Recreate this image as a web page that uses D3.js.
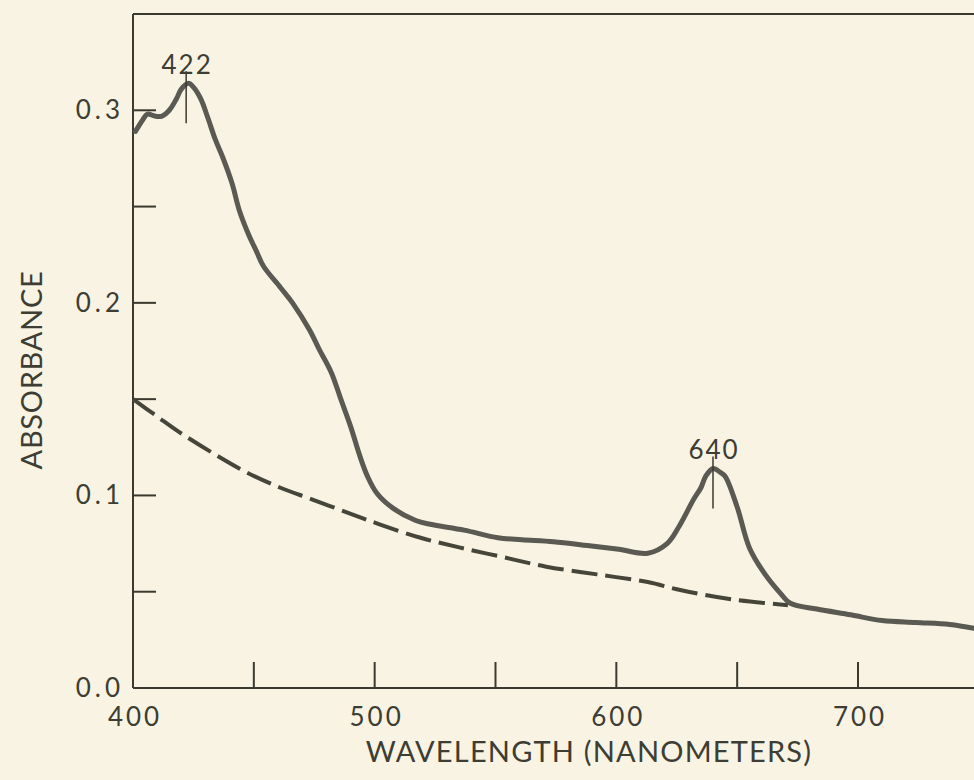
<!DOCTYPE html>
<html lang="en">

<head>
    <meta charset="UTF-8">
    <title>Absorbance spectrum</title>
    <script src="https://cdn.jsdelivr.net/npm/d3@7/dist/d3.min.js"></script>
    <style>
        html, body { margin: 0; padding: 0; background: #f8f3e2; }
        svg { display: block; }
        text { font-family: Lato, "Open Sans", sans-serif; fill: #3d3d33; }
    </style>
</head>

<body>
    <svg width="974" height="780" id="spectrum-svg"></svg>

    <script type="text/javascript">
        // solid curve: wavelength (nm) / absorbance
        var solidWavelength = [401, 404, 406, 409, 412, 415, 418, 420, 423, 425, 428, 431, 434, 437, 441, 444, 448, 451, 454,
            461, 466, 473, 477, 482, 486, 490, 494, 497, 501, 508, 517, 523, 537, 551, 561, 574, 588, 601, 613,
            621, 626, 632, 635, 637, 640, 643, 645, 650, 655, 661, 668, 672, 683, 697, 710, 724, 738, 748];
        var solidAbsorbance = [0.289, 0.295, 0.298, 0.297, 0.297, 0.300, 0.306, 0.311, 0.314, 0.312, 0.306, 0.296, 0.285, 0.276, 0.262, 0.248, 0.235, 0.227, 0.219,
            0.208, 0.200, 0.186, 0.176, 0.164, 0.150, 0.136, 0.120, 0.110, 0.101, 0.093, 0.087, 0.085, 0.082, 0.078, 0.077, 0.076, 0.074, 0.072, 0.070,
            0.075, 0.084, 0.098, 0.104, 0.110, 0.114, 0.112, 0.110, 0.094, 0.073, 0.060, 0.049, 0.044, 0.041, 0.038, 0.035, 0.034, 0.033, 0.031];

        // dashed curve
        var dashWavelength = [400, 410, 419, 433, 447, 461, 474, 489, 502, 519, 535, 553, 571, 592, 613, 626, 648, 671];
        var dashAbsorbance = [0.150, 0.141, 0.133, 0.122, 0.112, 0.104, 0.098, 0.091, 0.085, 0.078, 0.073, 0.068, 0.063, 0.059, 0.055, 0.051, 0.046, 0.043];

        // peak annotations
        var peakWavelength = [422, 640];
        var peakAbsorbance = [0.314, 0.114];

        // ticks
        var xTicks = [450, 500, 550, 600, 650, 700];
        var xTickLabels = [400, 500, 600, 700];
        var yTicks = [0.05, 0.1, 0.15, 0.2, 0.25, 0.3];
        var yTickLabels = [0.0, 0.1, 0.2, 0.3];

        var svg = d3.select("#spectrum-svg");
        var ink = "#3a3a30";

        var x = d3.scaleLinear().domain([400, 748]).range([133, 974]);
        var y = d3.scaleLinear().domain([0, 0.35]).range([688, 14]);

        //frame: left, top, bottom
        var frame = svg.append("g")
            .attr("stroke", ink)
            .attr("stroke-width", 2)
            .attr("fill", "none");
        frame.append("line").attr("x1", x(400)).attr("x2", x(400)).attr("y1", y(0.35)).attr("y2", y(0));
        frame.append("line").attr("x1", x(400)).attr("x2", x(748)).attr("y1", y(0.35)).attr("y2", y(0.35));
        frame.append("line").attr("x1", x(400)).attr("x2", x(748)).attr("y1", y(0)).attr("y2", y(0));

        //inner ticks
        frame.selectAll(".xt").data(xTicks).enter().append("line")
            .attr("x1", function (d) { return x(d); })
            .attr("x2", function (d) { return x(d); })
            .attr("y1", y(0))
            .attr("y2", y(0) - 26);
        frame.selectAll(".yt").data(yTicks).enter().append("line")
            .attr("x1", x(400))
            .attr("x2", x(400) + 23)
            .attr("y1", function (d) { return y(d); })
            .attr("y2", function (d) { return y(d); });

        //tick labels
        svg.selectAll(".xl").data(xTickLabels).enter().append("text")
            .attr("x", function (d) { return x(d) + 2; })
            .attr("y", y(0) + 38)
            .attr("text-anchor", "middle")
            .attr("font-size", 26)
            .attr("letter-spacing", 3)
            .text(function (d) { return d; });
        svg.selectAll(".yl").data(yTickLabels).enter().append("text")
            .attr("x", x(400) - 9)
            .attr("y", function (d) { return y(d) + 9; })
            .attr("text-anchor", "end")
            .attr("font-size", 26)
            .attr("letter-spacing", 4)
            .text(function (d) { return d3.format(".1f")(d); });

        //axis titles
        svg.append("text")
            .attr("x", 589)
            .attr("y", 762)
            .attr("text-anchor", "middle")
            .attr("font-size", 29)
            .attr("letter-spacing", 1.2)
            .text("WAVELENGTH (NANOMETERS)");
        svg.append("text")
            .attr("transform", "translate(42,370) rotate(-90)")
            .attr("text-anchor", "middle")
            .attr("font-size", 29)
            .attr("letter-spacing", 0.7)
            .text("ABSORBANCE");

        //curves
        var line = d3.line()
            .x(function (d) { return x(d[0]); })
            .y(function (d) { return y(d[1]); })
            .curve(d3.curveCatmullRom);

        var dashData = d3.zip(dashWavelength, dashAbsorbance);
        svg.append("path")
            .attr("d", line(dashData))
            .attr("fill", "none")
            .attr("stroke", "#45453a")
            .attr("stroke-width", 4)
            .attr("stroke-dasharray", "26,8");

        var solidData = d3.zip(solidWavelength, solidAbsorbance);
        svg.append("path")
            .attr("d", line(solidData))
            .attr("fill", "none")
            .attr("stroke", "#5a5a52")
            .attr("stroke-width", 5)
            .attr("stroke-linejoin", "round")
            .attr("stroke-linecap", "round");

        //peak markers
        var peaks = svg.selectAll(".peak")
            .data(d3.zip(peakWavelength, peakAbsorbance))
            .enter()
            .append("g");
        peaks.append("line")
            .attr("x1", function (d) { return x(d[0]); })
            .attr("x2", function (d) { return x(d[0]); })
            .attr("y1", function (d) { return y(d[1]) - 12; })
            .attr("y2", function (d) { return y(d[1]) + 40; })
            .attr("stroke", ink)
            .attr("stroke-width", 1.5);
        peaks.append("text")
            .attr("x", function (d) { return x(d[0]) + 1; })
            .attr("y", function (d) { return y(d[1]) - 9; })
            .attr("text-anchor", "middle")
            .attr("font-size", 26)
            .attr("letter-spacing", 2)
            .text(function (d) { return d[0]; });
    </script>
</body>

</html>
